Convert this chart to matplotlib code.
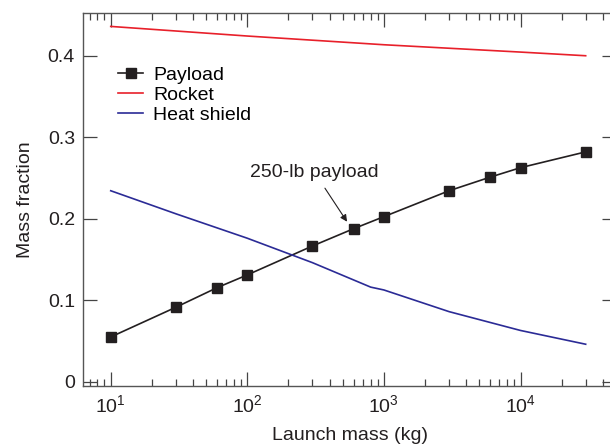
import numpy as np
import matplotlib
matplotlib.use('Agg')
import matplotlib.pyplot as plt
from matplotlib.ticker import FixedLocator, FixedFormatter, LogLocator, NullFormatter

plt.rcParams['font.family'] = ['Liberation Sans', 'DejaVu Sans']
plt.rcParams['mathtext.fontset'] = 'custom'
plt.rcParams['mathtext.rm'] = 'Liberation Sans'

# data
payload_x = [10, 30, 60, 100, 300, 600, 1000, 3000, 6000, 10000, 30000]
payload_y = [0.0548, 0.0913, 0.1153, 0.131, 0.1665, 0.1877, 0.2025, 0.2343, 0.251, 0.2626, 0.282]

rocket_x = [10, 100, 1000, 10000, 30000]
rocket_y = [0.436, 0.4242, 0.4135, 0.4045, 0.400]

shield_x = [10, 30, 100, 300, 800, 1000, 3000, 10000, 30000]
shield_y = [0.2343, 0.206, 0.176, 0.146, 0.116, 0.1125, 0.0859, 0.0628, 0.0459]

yticks = [0, 0.1, 0.2, 0.3, 0.4]
ytick_labels = ['0', '0.1', '0.2', '0.3', '0.4']

fig = plt.figure(figsize=(6.1, 4.46), dpi=100)
ax = fig.add_axes([0.1366, 0.1352, 0.8732, 0.8348])

ax.plot(payload_x, payload_y, color='#231f20', lw=1.2, marker='s', ms=7.5,
        markerfacecolor='#231f20', markeredgecolor='#231f20', label='Payload')
ax.plot(rocket_x, rocket_y, color='#e8202a', lw=1.2, label='Rocket')
ax.plot(shield_x, shield_y, color='#2b2b96', lw=1.2, label='Heat shield')

ax.set_xscale('log')
ax.set_xlim(6.3, 5e4)
ax.set_ylim(-0.005, 0.452)

ax.yaxis.set_major_locator(FixedLocator(yticks))
ax.yaxis.set_major_formatter(FixedFormatter(ytick_labels))
ax.xaxis.set_major_locator(LogLocator(base=10, numticks=10))
ax.xaxis.set_minor_locator(LogLocator(base=10, subs=np.arange(2, 10), numticks=20))
ax.xaxis.set_minor_formatter(NullFormatter())

ax.tick_params(which='both', direction='in', top=True, right=True, colors='#444444',
               labelcolor='#231f20', labelsize=14, width=0.9)
ax.tick_params(which='major', length=10, pad=6)
ax.tick_params(which='minor', length=5)
for s in ax.spines.values():
    s.set_color('#555555')
    s.set_linewidth(1.0)

ax.set_xlabel('Launch mass (kg)', fontsize=14, color='#231f20', labelpad=8)
ax.set_ylabel('Mass fraction', fontsize=14, color='#231f20', labelpad=10)

ax.legend(loc='upper left', bbox_to_anchor=(0.065, 0.858), frameon=False, fontsize=14,
          handlelength=1.3, handletextpad=0.5, labelspacing=0.13, borderpad=0,
          borderaxespad=0)

ax.annotate('250-lb payload', xy=(537, 0.1963), xytext=(310, 0.257),
            fontsize=14, color='#231f20', ha='center', va='center',
            arrowprops=dict(arrowstyle='-|>', color='#231f20', lw=0.8,
                            mutation_scale=10, shrinkA=4, shrinkB=0))

fig.savefig('out.png', dpi=100)
